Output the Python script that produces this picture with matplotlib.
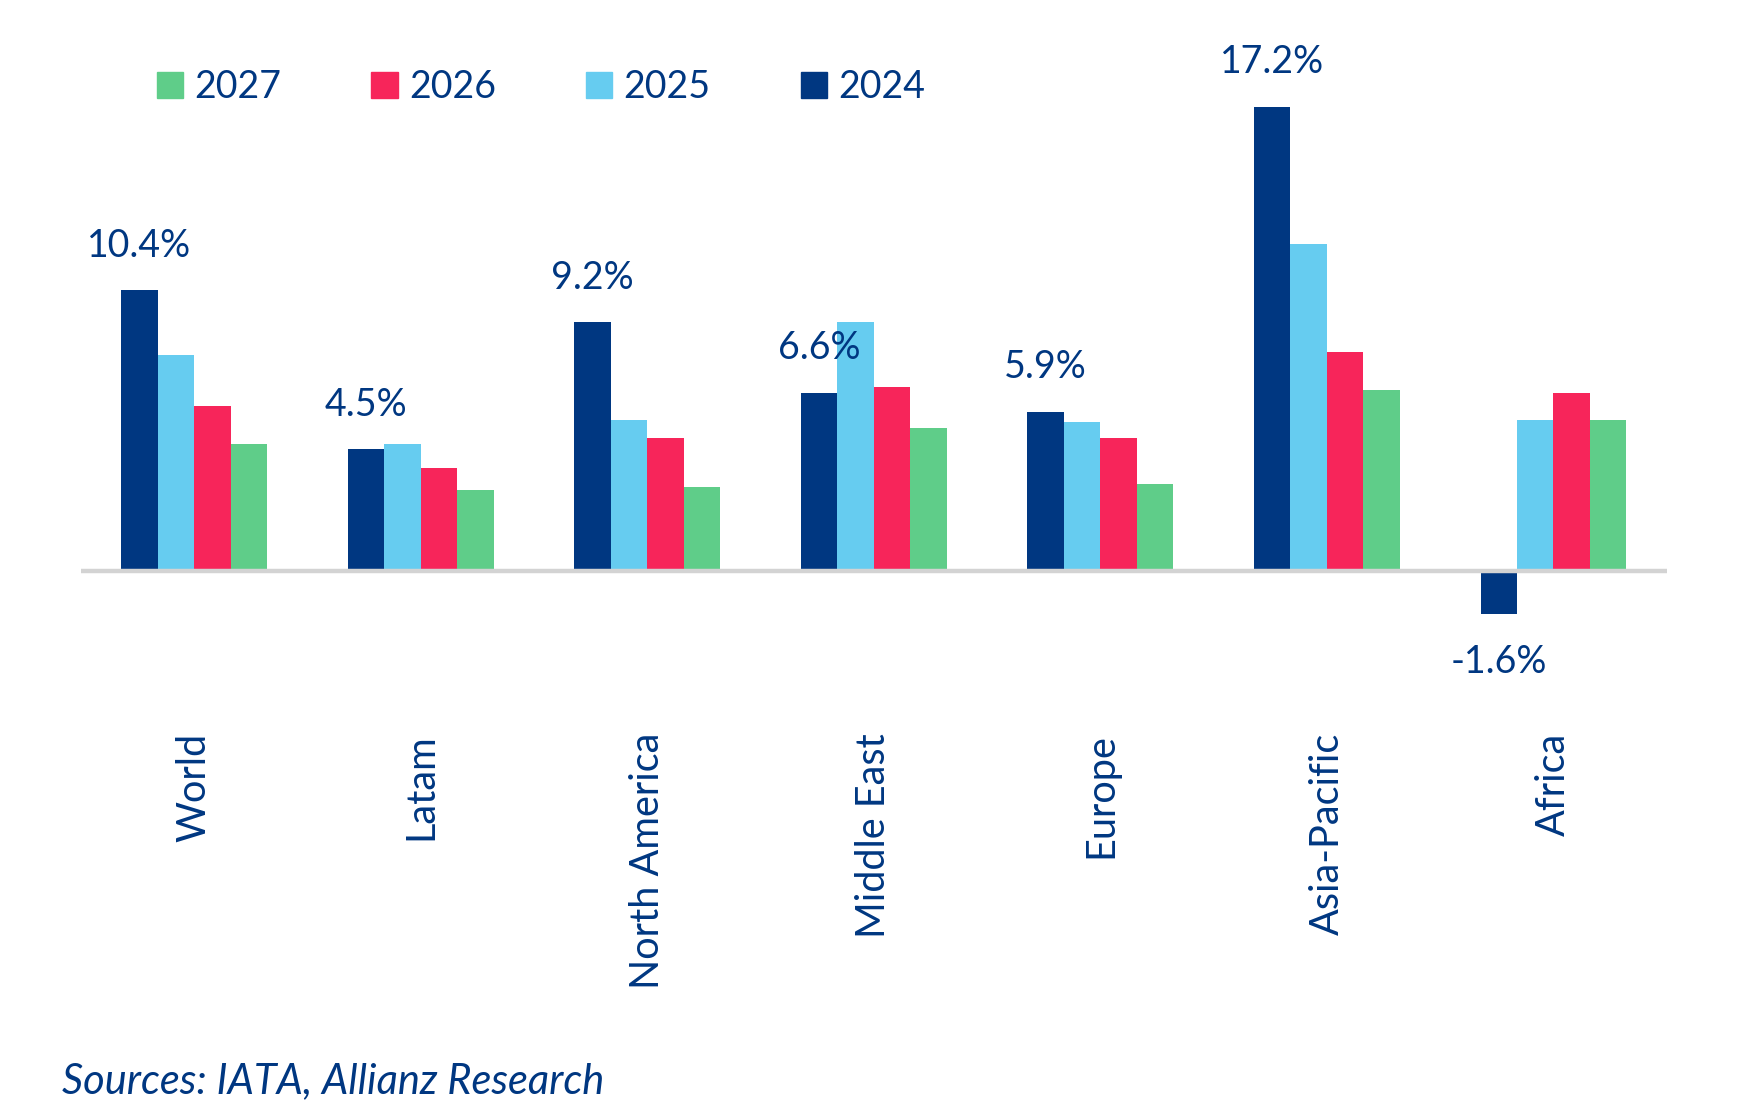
import numpy as np
import matplotlib.pyplot as plt
from matplotlib.patches import Patch

regions = ['World', 'Latam', 'North America', 'Middle East', 'Europe', 'Asia-Pacific', 'Africa']
years = ['2024', '2025', '2026', '2027']
v2024 = [10.4, 4.5, 9.2, 6.6, 5.9, 17.2, -1.6]
v2025 = [8.0, 4.7, 5.6, 9.2, 5.5, 12.1, 5.6]
v2026 = [6.1, 3.8, 4.9, 6.8, 4.9, 8.1, 6.6]
v2027 = [4.7, 3.0, 3.1, 5.3, 3.2, 6.7, 5.6]

navy = '#003781'
colors = [navy, '#66ccf0', '#f7255a', '#5fcd89']
series = [v2024, v2025, v2026, v2027]

plt.rcParams['font.family'] = ['Lato', 'DejaVu Sans']

fig = plt.figure(figsize=(17.6, 11.18), dpi=100)
ax = fig.add_axes([0.046, 0.393, 0.901, 0.543])

x = np.arange(len(regions))
w = 0.161
for i in range(4):
    ax.bar(x + (i - 1.5) * w, series[i], width=w, color=colors[i], zorder=2)

ax.axhline(0, color='#d3d3d3', lw=3.2, zorder=3)

# labels on the 2024 bars
for xi, v in zip(x, v2024):
    xb = xi - 1.5 * w
    if v >= 0:
        ax.annotate(f'{v:.1f}%', (xb, v), xytext=(0, 19), textcoords='offset points',
                    ha='center', va='bottom', fontsize=27, color=navy)
    else:
        ax.annotate(f'{v:.1f}%', (xb, v), xytext=(0, -22), textcoords='offset points',
                    ha='center', va='top', fontsize=27, color=navy)

ax.set_xlim(-0.5, 6.5)
ax.set_ylim(-4, 18.5)
ax.set_yticks([])
ax.set_xticks(x)
ax.set_xticklabels(regions, rotation=90, fontsize=28.5, color=navy)
ax.tick_params(axis='x', length=0, pad=39)
for s in ax.spines.values():
    s.set_visible(False)

handles = [Patch(color=colors[i], label=years[i]) for i in [3, 2, 1, 0]]
fig.legend(handles=handles, loc='center left', bbox_to_anchor=(0.07, 0.922), ncol=4,
           frameon=False, fontsize=27, labelcolor=navy, handlelength=0.7, handleheight=0.7,
           handletextpad=0.3, columnspacing=2.4)

fig.text(0.035, 0.033, 'Sources: IATA, Allianz Research', fontsize=30, style='italic',
         color=navy, va='center')

fig.savefig('out.png', dpi=100)
